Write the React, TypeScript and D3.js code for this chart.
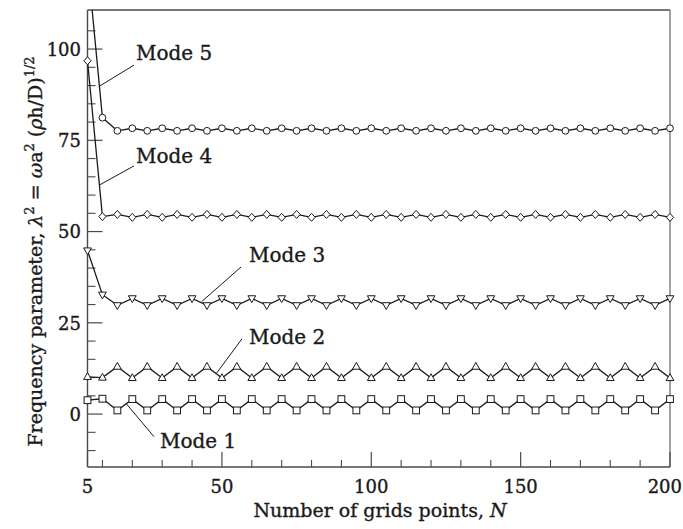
import React from 'react';
import * as d3 from 'd3';

// Grid sizes N used in the convergence study
const gridPoints = [
  5, 10, 15, 20, 25, 30, 35, 40, 45, 50,
  55, 60, 65, 70, 75, 80, 85, 90, 95, 100,
  105, 110, 115, 120, 125, 130, 135, 140, 145, 150,
  155, 160, 165, 170, 175, 180, 185, 190, 195, 200,
];

// Frequency parameter for each mode at every grid size
const mode1 = [
  3.8, 4.2, 1.0, 4.1, 1.0, 4.1, 1.0, 4.1, 1.0, 4.1,
  1.0, 4.1, 1.0, 4.1, 1.0, 4.1, 1.0, 4.1, 1.0, 4.1,
  1.0, 4.1, 1.0, 4.1, 1.0, 4.1, 1.0, 4.1, 1.0, 4.1,
  1.0, 4.1, 1.0, 4.1, 1.0, 4.1, 1.0, 4.1, 1.0, 4.1,
];
const mode2 = [
  10.2, 10.0, 13.0, 9.9, 13.0, 9.9, 13.0, 9.9, 13.0, 9.9,
  13.0, 9.9, 13.0, 9.9, 13.0, 9.9, 13.0, 9.9, 13.0, 9.9,
  13.0, 9.9, 13.0, 9.9, 13.0, 9.9, 13.0, 9.9, 13.0, 9.9,
  13.0, 9.9, 13.0, 9.9, 13.0, 9.9, 13.0, 9.9, 13.0, 9.9,
];
const mode3 = [
  44.8, 32.7, 29.8, 31.7, 29.8, 31.7, 29.8, 31.7, 29.8, 31.7,
  29.8, 31.7, 29.8, 31.7, 29.8, 31.7, 29.8, 31.7, 29.8, 31.7,
  29.8, 31.7, 29.8, 31.7, 29.8, 31.7, 29.8, 31.7, 29.8, 31.7,
  29.8, 31.7, 29.8, 31.7, 29.8, 31.7, 29.8, 31.7, 29.8, 31.7,
];
const mode4 = [
  96.8, 54.1, 54.7, 53.9, 54.7, 53.9, 54.7, 53.9, 54.7, 53.9,
  54.7, 53.9, 54.7, 53.9, 54.7, 53.9, 54.7, 53.9, 54.7, 53.9,
  54.7, 53.9, 54.7, 53.9, 54.7, 53.9, 54.7, 53.9, 54.7, 53.9,
  54.7, 53.9, 54.7, 53.9, 54.7, 53.9, 54.7, 53.9, 54.7, 53.9,
];
const mode5 = [
  124.0, 81.2, 77.6, 78.3, 77.6, 78.3, 77.6, 78.3, 77.6, 78.3,
  77.6, 78.3, 77.6, 78.3, 77.6, 78.3, 77.6, 78.3, 77.6, 78.3,
  77.6, 78.3, 77.6, 78.3, 77.6, 78.3, 77.6, 78.3, 77.6, 78.3,
  77.6, 78.3, 77.6, 78.3, 77.6, 78.3, 77.6, 78.3, 77.6, 78.3,
];

const modeNames = ['Mode 1', 'Mode 2', 'Mode 3', 'Mode 4', 'Mode 5'];

// Axis ticks
const xTickValues = [5, 50, 100, 150, 200];
const xTickLabels = ['5', '50', '100', '150', '200'];
const xMinorTickValues = [10, 20, 30, 40, 60, 70, 80, 90, 110, 120, 130, 140, 160, 170, 180, 190];
const yTickValues = [0, 25, 50, 75, 100];
const yTickLabels = ['0', '25', '50', '75', '100'];
const yMinorTickValues = [-10, -5, 5, 10, 15, 20, 30, 35, 40, 45, 55, 60, 65, 70, 80, 85, 90, 95, 105];

const W = 683;
const H = 529;
const FONT = '"DejaVu Serif", serif';
const INK = '#1a1a1a';

type MarkerKind = 'square' | 'triUp' | 'triDown' | 'diamond' | 'circle';

function Marker({ kind, x, y }: { kind: MarkerKind; x: number; y: number }) {
  const common = { fill: '#fff', stroke: INK, strokeWidth: 1 };
  switch (kind) {
    case 'square':
      return <rect x={x - 3.4} y={y - 3.4} width={6.8} height={6.8} {...common} />;
    case 'triUp':
      return <path d={`M${x},${y - 4.2}L${x + 3.9},${y + 2.6}L${x - 3.9},${y + 2.6}Z`} {...common} />;
    case 'triDown':
      return <path d={`M${x},${y + 4.2}L${x + 3.9},${y - 2.6}L${x - 3.9},${y - 2.6}Z`} {...common} />;
    case 'diamond':
      return <path d={`M${x},${y - 4}L${x + 3.6},${y}L${x},${y + 4}L${x - 3.6},${y}Z`} {...common} />;
    default:
      return <circle cx={x} cy={y} r={3.4} {...common} />;
  }
}

export default function App() {
  const left = 87.5;
  const right = 670;
  const top = 10;
  const bottom = 467;

  const x = d3.scaleLinear().domain([5, 200]).range([left, right]);
  const y = d3.scaleLinear().domain([-14.5, 110.7]).range([bottom, top]);

  const series: { name: string; values: number[]; marker: MarkerKind }[] = [
    { name: modeNames[0], values: mode1, marker: 'square' },
    { name: modeNames[1], values: mode2, marker: 'triUp' },
    { name: modeNames[2], values: mode3, marker: 'triDown' },
    { name: modeNames[3], values: mode4, marker: 'diamond' },
    { name: modeNames[4], values: mode5, marker: 'circle' },
  ];

  const line = d3
    .line<number>()
    .x((_, i) => x(gridPoints[i]))
    .y((v) => y(v));

  // Callouts: line tip on the curve (data units), elbow of the leader (data units), text offset (px)
  const callouts = [
    { name: modeNames[4], tip: [9.12, 89.9], tail: [20.57, 95.6], dx: 2, dy: -5 },
    { name: modeNames[3], tip: [9.12, 62.8], tail: [20.57, 68.0], dx: 2, dy: -3 },
    { name: modeNames[2], tip: [43.2, 30.8], tail: [56.4, 40.3], dx: 8, dy: -5 },
    { name: modeNames[1], tip: [48.25, 11.25], tail: [56.7, 20.6], dx: 7, dy: 4.7 },
    { name: modeNames[0], tip: [18.06, 2.76], tail: [27.26, -6.2], dx: 6, dy: 11 },
  ];

  const axisInk = '#4a4a4a';
  // thin outline to give the serif text a slightly heavier colour
  const textWeight = { fill: INK, stroke: INK, strokeWidth: 0.35 };

  return (
    <svg
      width={W}
      height={H}
      viewBox={`0 0 ${W} ${H}`}
      style={{ position: 'absolute', left: 0, top: 0, background: '#fff' }}
      fontFamily={FONT}
    >
      <defs>
        <clipPath id="plot-clip">
          <rect x={0} y={top} width={W} height={bottom - top} />
        </clipPath>
      </defs>

      {/* frame */}
      <line x1={left} x2={right} y1={top} y2={top} stroke={axisInk} strokeWidth={1.3} />
      <line x1={right} x2={right} y1={top} y2={bottom} stroke="#8a8a8a" strokeWidth={1.6} />
      <line x1={left} x2={left} y1={top} y2={bottom} stroke={axisInk} strokeWidth={1.4} />
      <line x1={left} x2={right} y1={bottom} y2={bottom} stroke={axisInk} strokeWidth={1.4} />

      {/* y ticks */}
      {yTickValues.map((v) => (
        <line key={`ym${v}`} x1={left} x2={left + 15} y1={y(v)} y2={y(v)} stroke={axisInk} strokeWidth={1.2} />
      ))}
      {yMinorTickValues.map((v) => (
        <line key={`yn${v}`} x1={left} x2={left + 8} y1={y(v)} y2={y(v)} stroke={axisInk} strokeWidth={1.1} />
      ))}
      {yTickValues.map((v, i) => (
        <text key={`yl${v}`} x={81} y={y(v) + 6.8} textAnchor="end" fontSize={18} {...textWeight}>
          {yTickLabels[i]}
        </text>
      ))}

      {/* x ticks */}
      {xTickValues.map((v) => (
        <line key={`xm${v}`} x1={x(v)} x2={x(v)} y1={bottom} y2={bottom - 15} stroke={axisInk} strokeWidth={1.2} />
      ))}
      {xMinorTickValues.map((v) => (
        <line key={`xn${v}`} x1={x(v)} x2={x(v)} y1={bottom} y2={bottom - 7} stroke={axisInk} strokeWidth={1.1} />
      ))}
      {xTickValues.map((v, i) => {
        const last = i === xTickValues.length - 1;
        return (
          <text
            key={`xl${v}`}
            x={last ? W - 1 : x(v)}
            y={493}
            textAnchor={last ? 'end' : 'middle'}
            fontSize={18}
            {...textWeight}
          >
            {xTickLabels[i]}
          </text>
        );
      })}

      {/* axis titles */}
      <text x={380} y={517} textAnchor="middle" fontSize={19} {...textWeight}>
        Number of grids points, <tspan fontStyle="italic">N</tspan>
      </text>
      <text
        transform={`translate(42,${(top + bottom) / 2 + 13}) rotate(-90)`}
        textAnchor="middle"
        fontSize={19}
        {...textWeight}
      >
        Frequency parameter, <tspan fontStyle="italic">λ</tspan>
        <tspan fontSize={13} dy={-8}>2</tspan>
        <tspan dy={8}> = </tspan>
        <tspan fontStyle="italic">ω</tspan>
        <tspan>a</tspan>
        <tspan fontSize={13} dy={-8}>2</tspan>
        <tspan dy={8}> (</tspan>
        <tspan fontStyle="italic">ρ</tspan>
        <tspan>h/D)</tspan>
        <tspan fontSize={13} dy={-8}>1/2</tspan>
      </text>

      {/* series */}
      <g clipPath="url(#plot-clip)">
        {series.map((s) => (
          <path key={`l-${s.name}`} d={line(s.values) || ''} fill="none" stroke={INK} strokeWidth={1.3} />
        ))}
        {series.map((s) =>
          s.values.map((v, i) => (
            <Marker key={`m-${s.name}-${i}`} kind={s.marker} x={x(gridPoints[i])} y={y(v)} />
          ))
        )}
      </g>

      {/* callouts */}
      {callouts.map((c) => {
        const tx = x(c.tail[0]);
        const ty = y(c.tail[1]);
        return (
          <g key={`c-${c.name}`}>
            <line x1={x(c.tip[0])} y1={y(c.tip[1])} x2={tx} y2={ty} stroke={INK} strokeWidth={1} />
            <text x={tx + c.dx} y={ty + c.dy} fontSize={20} {...textWeight}>
              {c.name}
            </text>
          </g>
        );
      })}
    </svg>
  );
}
